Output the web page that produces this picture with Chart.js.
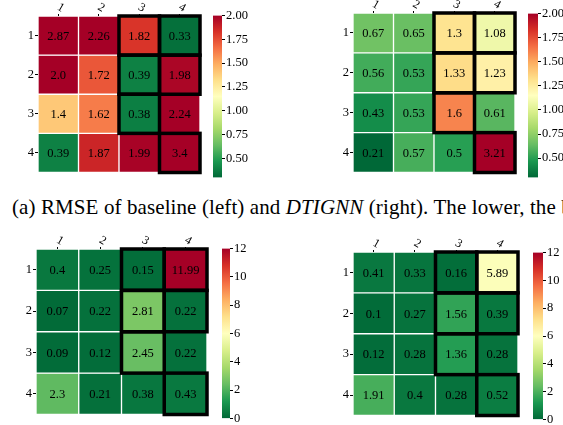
<!DOCTYPE html>
<html>
<head>
<meta charset="utf-8">
<script src="https://cdn.jsdelivr.net/npm/chart.js@4.4.1/dist/chart.umd.min.js"></script>
<style>
  body { margin: 0; background: #fff; width: 563px; height: 425px; overflow: hidden; position: relative; }
  canvas { position: absolute; }
  #caption { position: absolute; left: 12px; top: 195px; font: 21px "Liberation Serif", serif; letter-spacing: 0.1px; white-space: nowrap; color: #000; }
</style>
</head>
<body>
<canvas id="tl"></canvas><canvas id="tlbar"></canvas>
<canvas id="tr"></canvas><canvas id="trbar"></canvas>
<div id="caption">(a) RMSE of baseline (left) and <i>DTIGNN</i> (right). The lower, the better.</div>
<canvas id="bl"></canvas><canvas id="blbar"></canvas>
<canvas id="br"></canvas><canvas id="brbar"></canvas>
<script>
// data
const colLabels = ['1', '2', '3', '4'];
const rowLabels = ['1', '2', '3', '4'];
const baselineRMSE = [
  [2.87, 2.26, 1.82, 0.33],
  [2.0, 1.72, 0.39, 1.98],
  [1.4, 1.62, 0.38, 2.24],
  [0.39, 1.87, 1.99, 3.4]
];
const dtignnRMSE = [
  [0.67, 0.65, 1.3, 1.08],
  [0.56, 0.53, 1.33, 1.23],
  [0.43, 0.53, 1.6, 0.61],
  [0.21, 0.57, 0.5, 3.21]
];
const baselineLower = [
  [0.4, 0.25, 0.15, 11.99],
  [0.07, 0.22, 2.81, 0.22],
  [0.09, 0.12, 2.45, 0.22],
  [2.3, 0.21, 0.38, 0.43]
];
const dtignnLower = [
  [0.41, 0.33, 0.16, 5.89],
  [0.1, 0.27, 1.56, 0.39],
  [0.12, 0.28, 1.36, 0.28],
  [1.91, 0.4, 0.28, 0.52]
];
const boxedCells = [[1, 3], [1, 4], [2, 3], [2, 4], [3, 3], [4, 4]]; // [row, col]
const rmseTicks = [0.5, 0.75, 1.0, 1.25, 1.5, 1.75, 2.0];
const lowerTicks = [0, 2, 4, 6, 8, 10, 12];

// RdYlGn reversed
const RDYLGN_R = ['#006837', '#1a9850', '#66bd63', '#a6d96a', '#d9ef8b', '#ffffbf',
                  '#fee08b', '#fdae61', '#f46d43', '#d73027', '#a50026'];
function hex(c) { return [1, 3, 5].map(i => parseInt(c.substr(i, 2), 16)); }
function cmap(t) {
  t = Math.max(0, Math.min(1, t));
  const p = t * (RDYLGN_R.length - 1);
  const i = Math.min(Math.floor(p), RDYLGN_R.length - 2);
  const f = p - i;
  const a = hex(RDYLGN_R[i]), b = hex(RDYLGN_R[i + 1]);
  const m = a.map((v, k) => Math.round(v + (b[k] - v) * f));
  return 'rgb(' + m.join(',') + ')';
}
const FONT = '"Liberation Serif", serif';

function fmt(v) { return Number.isInteger(v) ? v.toFixed(1) : String(v); }

function place(id, left, top, w, h) {
  const c = document.getElementById(id);
  c.width = w; c.height = h;
  c.style.left = left + 'px'; c.style.top = top + 'px';
  c.style.width = w + 'px'; c.style.height = h + 'px';
  return c;
}

// cell values, boxes and rotated column labels
const heatPlugin = {
  id: 'heat',
  afterDatasetsDraw(chart) {
    const ctx = chart.ctx, xs = chart.scales.x, ys = chart.scales.y;
    const vals = chart.options.plugins.heat.values;
    const half = (xs.getPixelForValue(1) - xs.getPixelForValue(0)) / 2;
    ctx.save();
    ctx.fillStyle = '#000';
    ctx.font = '12.5px ' + FONT;
    ctx.textAlign = 'center';
    ctx.textBaseline = 'middle';
    vals.forEach((row, r) => row.forEach((v, c) => {
      ctx.fillText(fmt(v), xs.getPixelForValue(c), (ys.getPixelForValue(r) + ys.getPixelForValue(r + 1)) / 2 + 1);
    }));
    ctx.lineWidth = 3.5;
    ctx.strokeStyle = '#000';
    boxedCells.forEach(([r, c]) => {
      const x = xs.getPixelForValue(c - 1) - half;
      const y0 = ys.getPixelForValue(r - 1), y1 = ys.getPixelForValue(r);
      ctx.strokeRect(x, y0, half * 2, y1 - y0);
    });
    ctx.restore();
  },
  afterDraw(chart) {
    const ctx = chart.ctx, xs = chart.scales.x;
    ctx.save();
    ctx.fillStyle = '#000';
    ctx.font = '12px ' + FONT;
    ctx.textAlign = 'center';
    ctx.textBaseline = 'bottom';
    colLabels.forEach((l, i) => {
      ctx.save();
      ctx.translate(xs.getPixelForValue(i), xs.bottom - 4);
      ctx.rotate(Math.PI / 6);
      ctx.fillText(l, 0, 1);
      ctx.restore();
    });
    ctx.restore();
  }
};

function heatmap(id, values, vmin, vmax, left, top, leftW, topH, gridW, gridH) {
  const canvas = place(id, left, top, leftW + gridW + 4, topH + gridH + 4);
  const datasets = values.map((row, r) => ({
    data: row.map(() => [r, r + 1]),
    backgroundColor: row.map(v => cmap((v - vmin) / (vmax - vmin))),
    borderColor: '#fff',
    borderWidth: 1,
    borderSkipped: false,
    barPercentage: 1,
    categoryPercentage: 1,
    grouped: false
  }));
  return new Chart(canvas, {
    type: 'bar',
    data: { labels: colLabels, datasets: datasets },
    plugins: [heatPlugin],
    options: {
      responsive: false,
      animation: false,
      devicePixelRatio: 1,
      layout: { padding: { top: 0, left: 0, right: 4, bottom: 4 } },
      plugins: { legend: { display: false }, tooltip: { enabled: false }, heat: { values: values } },
      scales: {
        x: {
          type: 'category', position: 'top', offset: true,
          grid: { offset: false, drawOnChartArea: false, drawTicks: true, tickLength: 2, color: '#000' },
          border: { display: false },
          ticks: { display: false },
          afterFit: s => { s.height = topH; }
        },
        y: {
          type: 'linear', position: 'left', min: 0, max: 4, reverse: true,
          afterBuildTicks: s => { s.ticks = rowLabels.map((l, i) => ({ value: i + 0.5 })); },
          ticks: { callback: (v, i) => rowLabels[i], color: '#000', font: { family: FONT, size: 12.5 }, padding: 1 },
          grid: { drawOnChartArea: false, drawTicks: true, tickLength: 3, color: '#000' },
          border: { display: false },
          afterFit: s => { s.width = leftW; }
        }
      }
    }
  });
}

function colorbar(id, vmin, vmax, tickVals, digits, left, top, barW, barH) {
  const canvas = place(id, left, top - 8, barW + 40, barH + 16);
  return new Chart(canvas, {
    type: 'bar',
    data: {
      labels: [''],
      datasets: [{
        data: [[vmin, vmax]],
        backgroundColor: c => {
          const a = c.chart.chartArea;
          if (!a) return RDYLGN_R[5];
          const g = c.chart.ctx.createLinearGradient(0, a.bottom, 0, a.top);
          RDYLGN_R.forEach((col, i) => g.addColorStop(i / (RDYLGN_R.length - 1), col));
          return g;
        },
        borderWidth: 0,
        barPercentage: 1,
        categoryPercentage: 1
      }]
    },
    options: {
      responsive: false,
      animation: false,
      devicePixelRatio: 1,
      layout: { padding: { top: 8, bottom: 8, left: 0, right: 0 } },
      plugins: { legend: { display: false }, tooltip: { enabled: false } },
      scales: {
        x: { display: false },
        y: {
          position: 'right', min: vmin, max: vmax,
          afterBuildTicks: s => { s.ticks = tickVals.map(v => ({ value: v })); },
          ticks: { callback: v => v.toFixed(digits), color: '#000', font: { family: FONT, size: 12.5 }, padding: 1 },
          grid: { drawOnChartArea: false, drawTicks: true, tickLength: 3, color: '#000' },
          border: { display: false },
          afterFit: s => { s.width = 40; }
        }
      }
    }
  });
}

heatmap('tl', baselineRMSE, 0.3, 2.0, 0, 0, 38, 16, 162, 161);
colorbar('tlbar', 0.3, 2.0, rmseTicks, 2, 213, 15, 9, 163);
heatmap('tr', dtignnRMSE, 0.3, 2.0, 315, 0, 38, 13, 162, 164);
colorbar('trbar', 0.3, 2.0, rmseTicks, 2, 528, 13, 10, 165);
heatmap('bl', baselineLower, 0, 12, 0, 225, 36, 24, 171, 170);
colorbar('blbar', 0, 12, lowerTicks, 0, 222, 248, 8, 171);
heatmap('br', dtignnLower, 0, 12, 315, 225, 38, 27, 165, 168);
colorbar('brbar', 0, 12, lowerTicks, 0, 533, 252, 10, 168);
</script>
</body>
</html>
